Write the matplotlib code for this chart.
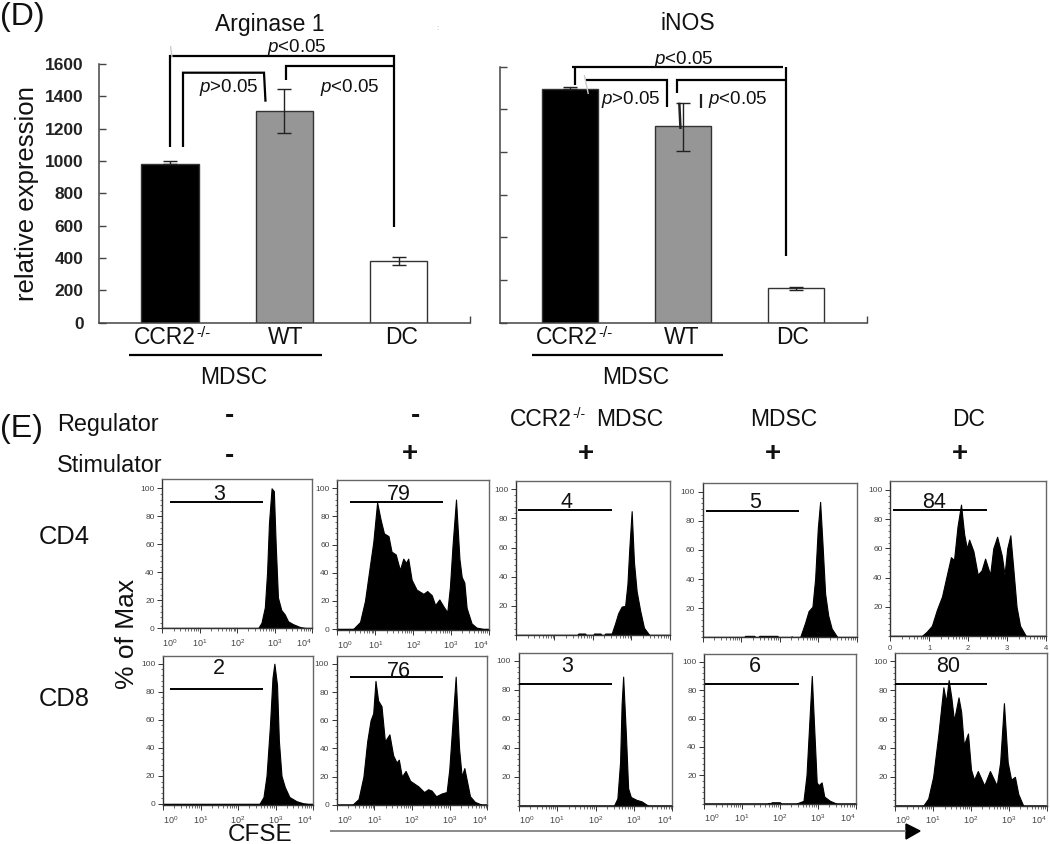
import numpy as np
import matplotlib
matplotlib.use('Agg')
import matplotlib.pyplot as plt

plt.rcParams['font.family'] = ['Liberation Sans', 'DejaVu Sans']
plt.rcParams['mathtext.fontset'] = 'custom'
plt.rcParams['mathtext.rm'] = 'Liberation Sans'
plt.rcParams['mathtext.it'] = 'Liberation Sans:italic'

W, H = 1050, 844

# bar data
bar_names = ['CCR2', 'WT', 'DC']
bar_colors = ['#000000', '#969696', '#ffffff']
arg_vals = [980, 1310, 380]
arg_err_low = [0, 135, 25]
arg_err_high = [20, 133, 28]
arg_ticks = [0, 200, 400, 600, 800, 1000, 1200, 1400, 1600]
inos_vals = [1094, 920, 161]
inos_err_low = [0, 117, 8]
inos_err_high = [12, 111, 8]
inos_ticks = [0, 200, 400, 600, 800, 1000, 1200]

# histograms, x in decades of CFSE, y in % of max
cd4_none_x = [0, 2.56, 2.65, 2.74, 2.80, 2.85, 2.92, 2.98, 3.03, 3.09, 3.18, 3.27, 3.36, 3.49, 3.67, 3.85, 4]
cd4_none_y = [0, 0, 4, 15, 40, 75, 100, 98, 60, 22, 13, 10, 5, 3, 1, 0, 0]
cd4_stim_x = [0, .42, .6, .73, .86, .95, 1.05, 1.14, 1.23, 1.35, 1.43, 1.54, 1.65, 1.74, 1.81, 1.87, 1.96, 2.09,
              2.27, 2.37, 2.49, 2.58, 2.69, 2.8, 2.9, 2.97, 3.04, 3.13, 3.22, 3.28, 3.35, 3.41, 3.54, 3.67, 3.85, 4]
cd4_stim_y = [0, 0, 5, 20, 45, 62, 90, 78, 68, 66, 55, 53, 42, 50, 47, 50, 35, 28,
              25, 27, 24, 17, 21, 16, 12, 30, 60, 92, 50, 37, 33, 15, 4, 1, 0, 0]
cd4_ko_x = [0, 1.6, 1.62, 1.8, 1.82, 2.01, 2.03, 2.2, 2.22, 2.3, 2.32, 2.49, 2.58, 2.66, 2.75, 2.84, 2.9, 2.95,
            3.01, 3.07, 3.14, 3.23, 3.33, 3.47, 4]
cd4_ko_y = [0, 0, 1, 1, 0, 0, 1, 1, 0, 0, 1, 1, 8, 15, 19.5, 20, 35, 60, 85, 50, 30, 17, 5, 0, 0]
cd4_wt_x = [0, 1.08, 1.1, 1.34, 1.36, 1.45, 1.47, 1.94, 1.96, 2.29, 2.31, 2.33, 2.53, 2.66, 2.75, 2.85, 2.92, 2.99,
            3.05, 3.11, 3.18, 3.26, 3.35, 3.5, 4]
cd4_wt_y = [0, 0, 1, 1, 0, 0, 1, 1, 0, 0, .7, 0, 0, 10, 18, 21, 40, 75, 93, 65, 30, 15, 6, 0, 0]
cd4_dc_x = [0, .81, .94, 1.07, 1.2, 1.33, 1.44, 1.56, 1.64, 1.73, 1.82, 1.9, 1.97, 2.03, 2.14, 2.25, 2.35, 2.44,
            2.57, 2.65, 2.75, 2.87, 2.94, 3.01, 3.09, 3.17, 3.25, 3.34, 3.49, 4]
cd4_dc_y = [0, 0, 3, 7, 18, 27, 40, 54, 52, 75, 90, 70, 60, 66, 58, 42, 45, 53,
            42, 60, 68, 55, 42, 60, 69, 45, 20, 7, 0, 0]
cd8_none_x = [0, 2.57, 2.68, 2.76, 2.85, 2.92, 2.97, 3.04, 3.09, 3.16, 3.25, 3.37, 3.56, 3.74, 3.88, 4]
cd8_none_y = [0, 0, 5, 20, 55, 90, 100, 85, 45, 20, 12, 5, 2, .5, 0, 0]
cd8_stim_x = [0, .42, .58, .71, .81, .9, .97, 1.03, 1.1, 1.19, 1.28, 1.4, 1.5, 1.59, 1.65, 1.73, 1.83, 1.95, 2.17,
              2.32, 2.43, 2.52, 2.64, 2.79, 2.92, 2.99, 3.08, 3.16, 3.25, 3.32, 3.39, 3.45, 3.54, 3.67, 3.85, 4]
cd8_stim_y = [0, 0, 4, 20, 45, 60, 65, 88, 74, 70, 45, 50, 35, 30, 32, 20, 24, 17, 13,
              9, 11, 10, 6, 8, 9, 25, 60, 91, 40, 20, 26, 18, 6, 2, 0, 0]
cd8_ko_x = [0, 2.48, 2.57, 2.64, 2.68, 2.72, 2.79, 2.85, 2.92, 3.07, 3.2, 3.37, 4]
cd8_ko_y = [0, 0, 5, 30, 70, 89, 50, 12, 6, 4, 3, 0, 0]
cd8_wt_x = [0, 1.68, 1.7, 1.76, 1.78, 2.0, 2.02, 2.42, 2.62, 2.7, 2.77, 2.84, 2.9, 2.97, 3.02, 3.1, 3.17, 3.32, 3.5, 4]
cd8_wt_y = [0, 0, .5, .5, 1, 1, 0, 0, 2, 20, 55, 90, 55, 15, 13, 15, 5, 2, 0, 0]
cd8_dc_x = [0, .74, .87, 1.0, 1.14, 1.27, 1.34, 1.41, 1.48, 1.55, 1.67, 1.74, 1.81, 1.92, 2.0, 2.08, 2.18, 2.35,
            2.5, 2.68, 2.77, 2.87, 2.97, 3.06, 3.16, 3.25, 3.38, 4]
cd8_dc_y = [0, 0, 5, 20, 50, 82, 72, 87, 75, 59, 75, 65, 42, 50, 25, 18, 24, 14,
            24, 14, 30, 71, 30, 18, 20, 8, 0, 0]

gate_pct = ['3', '79', '4', '5', '84', '2', '76', '3', '6', '80']
gate_level = [90.5, 90, 86, 87, 86, 82, 91, 84, 84, 84]
gate_end = [2.69, 2.80, 2.49, 2.50, 2.48, 2.67, 2.83, 2.43, 2.50, 2.43]
gate_start = [.2, .33, .06, .08, .08, .18, .35, 0, .03, 0]


def px_axes(l, t, r, b):
    return fig.add_axes([l / W, 1 - b / H, (r - l) / W, (b - t) / H])


def bar_panel(box, xlim, ylim, vals, low, high, ticks, bold_labels):
    ax = px_axes(*box)
    ax.patch.set_alpha(0)
    ax.bar(range(3), vals, width=0.5, color=bar_colors, edgecolor='#333333', linewidth=1)
    ax.errorbar(range(3), vals, yerr=[low, high], fmt='none', ecolor='#222222', elinewidth=1, capsize=5, capthick=1)
    ax.set_xlim(*xlim)
    ax.set_ylim(*ylim)
    for s in ['top', 'right']:
        ax.spines[s].set_visible(False)
    for s in ['left', 'bottom']:
        ax.spines[s].set_color('#444444')
        ax.spines[s].set_linewidth(1.1)
    ax.set_yticks(ticks)
    ax.tick_params(axis='y', direction='in', length=5, color='#444444', width=1)
    ax.set_xticks([xlim[1]])
    ax.set_xticklabels([''])
    ax.tick_params(axis='x', direction='in', length=5, color='#444444', width=1)
    if bold_labels:
        ax.set_yticklabels([str(t) for t in ticks], fontsize=12.5, fontweight='bold', color='#222222')
        ax.tick_params(axis='y', pad=11)
    else:
        ax.set_yticklabels([])
    return ax


def hist_panel(box, y0px, y100px, xs, ys, i):
    l, t, r, b = box
    ax = px_axes(l, t, r, b)
    per = (y0px - y100px) / 100
    ax.fill_between(xs, ys, 0, color='black', linewidth=0.8)
    ax.plot([0, 4], [0, 0], color='black', lw=1)
    ax.set_xlim(0, 4)
    ax.set_ylim((y0px - b) / per, (y0px - t) / per)
    for s in ax.spines.values():
        s.set_color('#666666')
        s.set_linewidth(1)
    ax.spines['left'].set_color('#333333')
    ax.spines['bottom'].set_color('#333333')
    ax.set_yticks([20, 40, 60, 80, 100] if i in (2, 3, 4, 7, 8, 9) else [0, 20, 40, 60, 80, 100])
    ax.set_yticks(np.arange(0, 101, 4), minor=True)
    ax.tick_params(axis='y', which='major', length=3.5, width=.7, labelsize=6, labelcolor='#444444', pad=2, color='#333333')
    ax.tick_params(axis='y', which='minor', length=1.5, width=.5, color='#333333')
    ax.set_xticks([0, 1, 2, 3, 4])
    ax.set_xticks([d + np.log10(k) for d in range(4) for k in range(2, 10)], minor=True)
    ax.tick_params(axis='x', which='major', length=3.5, width=.7, color='#333333', pad=3, labelcolor='#444444')
    ax.tick_params(axis='x', which='minor', length=2, width=.5, color='#333333')
    if i in (2, 3):
        ax.set_xticklabels([])
    elif i == 4:
        ax.set_xticklabels(['0', '1', '2', '3', '4'], fontsize=5.5)
    else:
        ax.set_xticklabels(['$10^{%d}$' % d for d in range(5)], fontsize=6.5)
        ax.get_xticklabels()[0].set_ha('left')
        ax.get_xticklabels()[4].set_ha('right')
    ax.hlines(gate_level[i], gate_start[i], gate_end[i], color='black', lw=1.4, zorder=5)
    return ax


fig = plt.figure(figsize=(W / 100, H / 100), dpi=100)

bar_panel((99, 64, 470, 322.7), (-0.621, 2.625), (0, 1600), arg_vals, arg_err_low, arg_err_high, arg_ticks, True)
bar_panel((500, 66.7, 867, 322.7), (-0.62, 2.628), (0, 1200), inos_vals, inos_err_low, inos_err_high, inos_ticks, False)

hist_x = [cd4_none_x, cd4_stim_x, cd4_ko_x, cd4_wt_x, cd4_dc_x, cd8_none_x, cd8_stim_x, cd8_ko_x, cd8_wt_x, cd8_dc_x]
hist_y = [cd4_none_y, cd4_stim_y, cd4_ko_y, cd4_wt_y, cd4_dc_y, cd8_none_y, cd8_stim_y, cd8_ko_y, cd8_wt_y, cd8_dc_y]
boxes = [(162.3, 479, 312, 628.3), (337.3, 480, 489, 630), (516, 481.3, 669.7, 635), (702.7, 483.3, 856.7, 637.3),
         (890.3, 481.3, 1045.7, 636), (163, 655.7, 313, 805), (336.7, 655.7, 487.3, 805.3),
         (518.7, 652.7, 672.3, 805.7), (704.3, 654, 855.7, 803.7), (895.3, 652.7, 1046.7, 805.7)]
y0s = [628.3, 629, 635, 637.3, 636, 804, 804.7, 805.7, 803.7, 805.7]
y100s = [488.3, 488.3, 489.3, 491.7, 490, 663.7, 664, 660.7, 661.7, 661.3]
for i in range(10):
    hist_panel(boxes[i], y0s[i], y100s[i], hist_x[i], hist_y[i], i)

# everything hand drawn on the figure goes in pixel coordinates
ov = fig.add_axes([0, 0, 1, 1], zorder=20)
ov.set_xlim(0, W)
ov.set_ylim(H, 0)
ov.axis('off')
ov.patch.set_alpha(0)


def line(xs, ys, color='black', lw=1.6):
    ov.plot(xs, ys, color=color, lw=lw, solid_capstyle='butt', solid_joinstyle='miter')


def txt(x, y, s, size=16.5, ha='center', **kw):
    ov.text(x, y, s, fontsize=size, ha=ha, va='center', color=kw.pop('color', '#111111'), **kw)


# brackets
line([170, 170, 394, 394], [147, 56, 56, 227])
line([183, 183, 264, 265.5], [147, 72.7, 72.7, 101.7])
line([286, 286, 394], [80, 66, 66])
line([170.5, 172], [46, 57], color='#cccccc', lw=1)
line([571.7, 782.7], [66.7, 66.7])
line([575, 575], [66.7, 85])
line([785.7, 785.7], [66.7, 255.7])
line([585, 666.7, 666.7], [80, 80, 106.7])
line([677.3, 677.3, 785.7], [92.7, 80, 80])
line([679.3, 680.5], [102.7, 129], lw=1.8, color='#222222')
line([700.7, 700.7], [94.3, 108], color='#222222')
line([584.3, 588.3], [75, 94], color='#cccccc', lw=1)
line([129, 322], [354.7, 354.7])
line([531.7, 723.3], [355, 355])

# panel text
txt(0, 17, '(D)', size=23, ha='left')
txt(0, 429, '(E)', size=23, ha='left')
txt(270, 24, 'Arginase 1')
txt(688, 24, 'iNOS')
txt(437, 28, ':', size=6, color='#aaaaaa')
txt(27, 194, 'relative expression', rotation=90, size=18.5)
for x, y, s in [(297, 47, '$\\mathit{p}$<0.05'), (229, 88, '$\\mathit{p}$>0.05'), (350, 88, '$\\mathit{p}$<0.05'),
                (684, 60, '$\\mathit{p}$<0.05'), (631, 100, '$\\mathit{p}$>0.05'), (738, 100, '$\\mathit{p}$<0.05')]:
    txt(x, y, s, size=13.5)
for xs in [[165, 286, 402], [567, 682, 793]]:
    for x, name in zip(xs, bar_names):
        txt(x, 338, name)
txt(196.5, 333, '-/-', size=11, ha='left')
txt(598, 333, '-/-', size=11, ha='left')
txt(234, 378, 'MDSC')
txt(636, 378, 'MDSC')

txt(57, 425, 'Regulator', ha='left', size=16.8)
txt(57, 465, 'Stimulator', ha='left', size=16.8)
for x, y in [(229, 416), (416, 416), (229, 456)]:
    txt(x, y, '-', size=20, fontweight='bold')
for x in [410, 586, 773, 960]:
    txt(x, 454, '+', size=20, fontweight='bold')
txt(510, 419, 'CCR2', ha='left')
txt(572, 414, '-/-', size=10, ha='left')
txt(630, 419, 'MDSC')
txt(784, 419, 'MDSC')
txt(969, 419, 'DC')
txt(39, 537, 'CD4', ha='left', size=18.4)
txt(39, 699, 'CD8', ha='left', size=18.4)
txt(127, 634, '% of Max', rotation=90, size=19)
txt(260, 835, 'CFSE', size=17.5)
line([330, 906], [831, 831], color='#777777', lw=1.2)
ov.fill([906, 906, 920], [824, 839, 831], color='black')

# gate percentages sit on their gate bars
pct_x = [219, 399, 566.7, 755, 934, 219, 399, 567, 755, 947.7]
pct_y = [494, 494, 503, 503, 503, 669, 671.7, 666.7, 666.7, 666.7]
for x, y, s in zip(pct_x, pct_y, gate_pct):
    txt(x, y, s, size=15.5, color='#111111')

fig.savefig('out.png', dpi=100)
